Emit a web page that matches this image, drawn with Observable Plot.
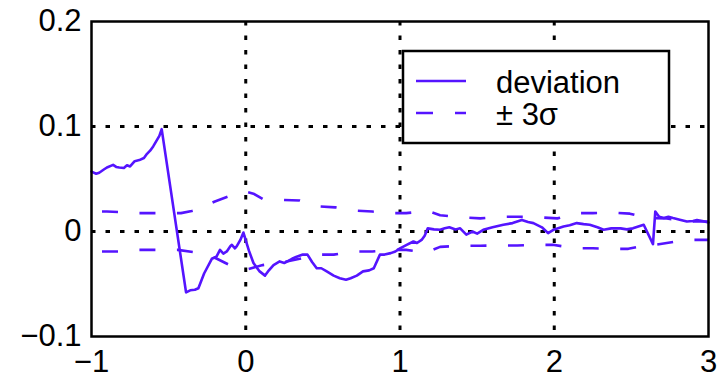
<!DOCTYPE html>
<html>
<head>
<meta charset="utf-8">
<script src="https://cdn.jsdelivr.net/npm/d3@7"></script>
<script src="https://cdn.jsdelivr.net/npm/@observablehq/plot@0.6"></script>
<style>
  html, body { margin: 0; padding: 0; background: white; }
  #chart svg { display: block; }
</style>
</head>
<body>
<div id="chart"></div>
<script>
// ---- data ----
const devX = [-1, -0.97, -0.95, -0.92, -0.9, -0.86, -0.84, -0.82, -0.79, -0.77, -0.75, -0.72, -0.69, -0.66, -0.64, -0.62, -0.6, -0.58, -0.56, -0.545,
  -0.387, -0.36, -0.33, -0.307, -0.27, -0.22, -0.19, -0.167, -0.145, -0.123, -0.1, -0.09, -0.07, -0.058, -0.035, -0.015,
  0.02, 0.05, 0.09, 0.125, 0.15, 0.18, 0.22, 0.25, 0.27, 0.3, 0.33, 0.37, 0.40, 0.43, 0.46, 0.49, 0.525, 0.57, 0.61, 0.65, 0.68, 0.72, 0.76, 0.8, 0.83, 0.87, 0.9, 0.94, 0.97,
  1.0, 1.04, 1.087, 1.11, 1.14, 1.16, 1.18, 1.22, 1.26, 1.29, 1.32, 1.36, 1.39, 1.43, 1.47, 1.5, 1.54, 1.6, 1.67, 1.73, 1.79, 1.83, 1.865, 1.92, 1.96,
  2.0, 2.06, 2.1, 2.146, 2.19, 2.23, 2.28, 2.32, 2.37, 2.43, 2.47, 2.51, 2.55, 2.58, 2.64, 2.655, 2.68, 2.71, 2.74, 2.77, 2.82, 2.86, 2.9, 2.925, 2.96, 3.0];
const devY = [0.057, 0.055, 0.056, 0.059, 0.061, 0.0635, 0.0615, 0.061, 0.0605, 0.063, 0.062, 0.067, 0.068, 0.070, 0.074, 0.077, 0.081, 0.086, 0.091, 0.0975,
  -0.058, -0.056, -0.0555, -0.054, -0.040, -0.026, -0.024, -0.0175, -0.021, -0.019, -0.014, -0.0127, -0.016, -0.014, -0.008, -0.001,
  -0.018, -0.030, -0.038, -0.042, -0.037, -0.032, -0.0285, -0.030, -0.0285, -0.026, -0.024, -0.022, -0.022, -0.029, -0.035, -0.035, -0.038, -0.042, -0.0445, -0.046, -0.0445, -0.042, -0.038, -0.037, -0.035, -0.022, -0.022, -0.0206, -0.019,
  -0.016, -0.013, -0.0095, -0.011, -0.008, -0.004, 0.003, 0.002, 0.0016, 0.003, 0.004, 0.002, 0.003, -0.003, 0.0, -0.002, 0.0016, 0.004, 0.0064, 0.008, 0.011, 0.009, 0.008, 0.004, -0.0016,
  0.002, 0.0048, 0.006, 0.008, 0.007, 0.0064, 0.004, 0.0016, 0.003, 0.003, 0.002, 0.003, 0.005, 0.0064, -0.012, 0.019, 0.014, 0.0128, 0.014, 0.0128, 0.011, 0.0095, 0.010, 0.011, 0.010, 0.0086];

const upX = [-1, -0.9, -0.8, -0.7, -0.6, -0.5, -0.42, -0.35, -0.32, -0.2, -0.1, 0, 0.05, 0.11, 0.25, 0.35,
  0.47, 0.58, 0.7, 0.82, 0.94, 1.04, 1.18, 1.26, 1.4, 1.52, 1.65, 1.77, 1.9, 2.02, 2.15, 2.25, 2.38, 2.49,
  2.6, 2.73, 2.86, 3.0];
const upY = [0.019, 0.019, 0.0185, 0.0175, 0.0175, 0.0175, 0.0175, 0.0195, 0.0207, 0.0286, 0.034, 0.038, 0.036, 0.031, 0.030, 0.0295,
  0.024, 0.023, 0.020, 0.019, 0.0175, 0.0175, 0.0195, 0.0155, 0.0135, 0.0125, 0.014, 0.014, 0.0135, 0.0125, 0.0175, 0.0175, 0.018, 0.017,
  0.013, 0.0125, 0.0095, 0.0095];

const loX = [-1, -0.9, -0.8, -0.7, -0.6, -0.44, -0.32, -0.2, -0.09, 0.01, 0.11, 0.25, 0.35, 0.46, 0.57,
  0.7, 0.82, 0.94, 1.04, 1.17, 1.26, 1.4, 1.52, 1.64, 1.76, 1.89, 1.99, 2.14, 2.25, 2.38, 2.48,
  2.61, 2.65, 2.86, 3.0];
const loY = [-0.019, -0.019, -0.019, -0.0175, -0.0175, -0.0175, -0.020, -0.025, -0.033, -0.036, -0.032, -0.029, -0.026, -0.022, -0.022,
  -0.019, -0.019, -0.0175, -0.0175, -0.020, -0.0146, -0.0135, -0.0135, -0.0133, -0.0133, -0.0127, -0.0127, -0.016, -0.016, -0.0165, -0.0165,
  -0.0127, -0.0127, -0.008, -0.008];

const xTicks = [-1, 0, 1, 2, 3];
const yTicks = [-0.1, 0, 0.1, 0.2];
const xGrid = [0, 1, 2];
const yGrid = [0, 0.1];
const legendLabels = ["deviation", "\u00B1 3\u03C3"];

// ---- build tables ----
const dev = devX.map((x, i) => ({x, y: devY[i]}));
const up = upX.map((x, i) => ({x, y: upY[i]}));
const lo = loX.map((x, i) => ({x, y: loY[i]}));

const color = "#5514ff";
const fontFamily = "'Liberation Sans', Arial, Helvetica, sans-serif";
const fmt = d => d === 0 ? "0" : d3.format(Number.isInteger(d) ? "d" : ".1f")(d);
const dash = "16 21.5";

const W = 717, H = 380;
const mL = 91, mR = 9, mT = 21, mB = 44;

const plot = Plot.plot({
  width: W,
  height: H,
  marginLeft: mL,
  marginRight: mR,
  marginTop: mT,
  marginBottom: mB,
  style: {background: "white", fontFamily, fontSize: "31px", color: "black"},
  x: {domain: [-1, 3]},
  y: {domain: [-0.1, 0.2]},
  marks: [
    Plot.ruleX(xGrid, {stroke: "black", strokeWidth: 3, strokeDasharray: "4.5 10"}),
    Plot.ruleY(yGrid, {stroke: "black", strokeWidth: 3, strokeDasharray: "4.5 10"}),
    Plot.line(up, {x: "x", y: "y", stroke: color, strokeWidth: 2.6, strokeDasharray: dash, strokeDashoffset: 27, strokeLinecap: "butt"}),
    Plot.line(lo, {x: "x", y: "y", stroke: color, strokeWidth: 2.6, strokeDasharray: dash, strokeDashoffset: 27, strokeLinecap: "butt"}),
    Plot.line(dev, {x: "x", y: "y", stroke: color, strokeWidth: 2.6}),
    Plot.frame({stroke: "black", strokeWidth: 2.5}),
    Plot.axisX(xTicks, {tickSize: 0, tickPadding: 13, tickFormat: fmt, fontSize: 31, label: null}),
    Plot.axisY(yTicks, {tickSize: 0, tickPadding: 10, tickFormat: fmt, fontSize: 31, label: null})
  ]
});
document.getElementById("chart").appendChild(plot);

// ---- legend box inside the plot area ----
const svg = d3.select(plot);
const lg = svg.append("g").attr("font-family", fontFamily).attr("font-size", 31).attr("text-anchor", "start");
lg.append("rect").attr("x", 403).attr("y", 51).attr("width", 266).attr("height", 92)
  .attr("fill", "white").attr("stroke", "black").attr("stroke-width", 2.5);
lg.append("line").attr("x1", 416).attr("x2", 466).attr("y1", 81).attr("y2", 81)
  .attr("stroke", color).attr("stroke-width", 2.6);
lg.append("line").attr("x1", 416).attr("x2", 466).attr("y1", 113).attr("y2", 113)
  .attr("stroke", color).attr("stroke-width", 2.6).attr("stroke-dasharray", "17 22");
lg.append("text").attr("x", 496).attr("y", 93).text(legendLabels[0]);
lg.append("text").attr("x", 496).attr("y", 125).text(legendLabels[1]);
</script>
</body>
</html>
